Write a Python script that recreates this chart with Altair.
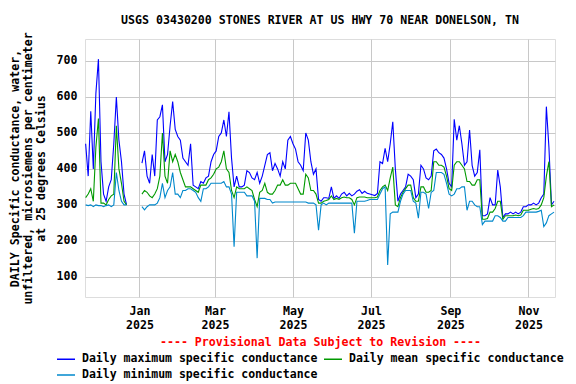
import altair as alt
import pandas as pd

# ---- data (every 2 days) ----
seg1_start = "2024-11-20"
seg1_max = [470, 380, 560, 400, 610, 705, 420, 330, 310, 350, 370, 470, 600, 480, 420, 330, 300]
seg1_mean = [320, 330, 345, 310, 460, 540, 305, 305, 300, 315, 325, 330, 520, 400, 360, 310, 300]
seg1_min = [300, 298, 300, 295, 300, 298, 298, 295, 298, 300, 295, 300, 390, 340, 310, 300, 300]

seg2_start = "2025-01-03"
seg2_max = [
    416, 450, 380, 360, 440, 380, 536, 545, 578, 420,
    440, 520, 587, 510, 490, 480, 430, 420, 410, 470,
    355, 350, 345, 365, 360, 375, 380, 420, 440, 450,
    490, 500, 536, 490, 559, 430, 350, 380, 350, 350,
    355, 395, 390, 375, 370, 390, 360, 380, 410, 440,
    445, 395, 415, 400, 380, 420, 400, 480, 490, 470,
    455, 420, 410, 395, 500, 480, 420, 385, 400, 315,
    310, 320, 320, 318, 350, 318, 325, 318, 330, 335,
    325, 332, 325, 330, 338, 342, 332, 338, 332, 330,
    328, 326, 332, 420, 415, 457, 420, 470, 531, 400,
    310, 330, 340, 350, 385, 380, 370, 320, 330, 410,
    400, 375, 370, 380, 450, 455, 445, 440, 430, 400,
    360, 350, 538, 480, 520, 470, 410, 420, 508, 410,
    380, 390, 453, 270, 270, 275, 320, 300, 300, 397,
    350, 265, 275, 275, 280, 275, 280, 275, 280, 295,
    295, 300, 300, 305, 300, 305, 320, 330, 573, 460,
    300, 310,
]
seg2_mean = [
    330, 340, 335, 325, 320, 330, 345, 380, 500, 380,
    360, 450, 420, 440, 420, 390, 370, 350, 350, 350,
    345, 340, 335, 355, 355, 355, 370, 375, 385, 400,
    405, 420, 450, 400, 390, 340, 320, 350, 345, 345,
    345, 350, 345, 340, 315, 295, 335, 340, 360, 335,
    330, 330, 340, 355, 355, 370, 355, 355, 360, 360,
    360, 345, 330, 330, 385, 375, 340, 340, 330, 305,
    305, 310, 312, 315, 325, 315, 318, 315, 320, 322,
    320, 320, 315, 300, 320, 322, 322, 322, 320, 320,
    320, 320, 322, 340, 350, 355, 340, 375, 405, 300,
    295, 320, 335, 345, 355, 355, 320, 310, 310, 350,
    350, 335, 335, 340, 420, 420, 410, 410, 405, 380,
    345, 340, 410, 420, 420, 410, 400, 365, 365, 355,
    355, 370, 370, 260, 260, 262, 280, 280, 290, 310,
    310, 260, 270, 270, 270, 270, 272, 270, 272, 285,
    285, 285, 288, 290, 288, 290, 300, 320, 380, 420,
    295, 300,
]
seg2_min = [
    295, 286, 295, 300, 300, 300, 305, 320, 360, 320,
    340, 350, 390, 330, 330, 320, 340, 340, 345, 345,
    340, 335, 320, 310, 345, 345, 350, 360, 360, 360,
    360, 360, 365, 350, 350, 330, 184, 335, 335, 335,
    335, 325, 325, 325, 310, 152, 318, 318, 318, 315,
    315, 305, 308, 308, 308, 308, 308, 308, 308, 308,
    308, 308, 308, 308, 308, 305, 305, 305, 300, 230,
    300, 305, 300, 305, 305, 305, 305, 305, 305, 305,
    305, 305, 305, 221, 310, 310, 310, 310, 312, 315,
    315, 315, 315, 330, 345, 350, 133, 275, 280, 280,
    280, 310, 330, 340, 340, 340, 310, 305, 263, 335,
    335, 330, 290, 335, 340, 390, 390, 390, 385, 360,
    330, 325, 330, 345, 345, 350, 350, 285, 310, 310,
    300, 295, 295, 245, 255, 255, 255, 255, 270, 270,
    265, 255, 255, 265, 265, 265, 265, 265, 265, 270,
    280, 280, 280, 280, 280, 282, 285, 240, 250, 270,
    275, 280,
]

series_max = "Daily maximum specific conductance"
series_mean = "Daily mean specific conductance"
series_min = "Daily minimum specific conductance"
draw_order = [series_max, series_mean, series_min]
# legend domain is laid out column by column: (max, min) then (mean)
legend_domain = [series_max, series_min, series_mean]
legend_colors = ["#0000ff", "#0088cc", "#009900"]
y_ticks = [100, 200, 300, 400, 500, 600, 700]
x_tick_dates = [(2025, 1), (2025, 3), (2025, 5), (2025, 7), (2025, 9), (2025, 11)]

title_text = "USGS 03430200 STONES RIVER AT US HWY 70 NEAR DONELSON, TN"
y_title = [
    "DAILY Specific conductance, water,",
    "unfiltered, microsiemens per centimeter",
    "at 25 degrees Celsius",
]
note_text = "---- Provisional Data Subject to Revision ----"

# ---- long table ----
rows = []
for seg, start, arrs in [
    (1, seg1_start, (seg1_max, seg1_mean, seg1_min)),
    (2, seg2_start, (seg2_max, seg2_mean, seg2_min)),
]:
    dates = pd.date_range(start, periods=len(arrs[0]), freq="2D")
    for name, arr in zip(draw_order, arrs):
        for d, v in zip(dates, arr):
            rows.append({"date": d.strftime("%Y-%m-%d"), "value": v,
                         "series": name, "seg": seg})
df = pd.DataFrame(rows)

FONT = "DejaVu Sans Mono"
FS = 11.6

x_enc = alt.X(
    "date:T",
    scale=alt.Scale(
        type="utc",
        domain=[
            alt.DateTime(year=2024, month=11, date=19, hours=12, utc=True),
            alt.DateTime(year=2025, month=11, date=21, hours=18, utc=True),
        ],
    ),
    axis=alt.Axis(
        values=[alt.DateTime(year=y, month=m, date=1, utc=True) for y, m in x_tick_dates],
        labelExpr="[utcFormat(datum.value, '%b'), utcFormat(datum.value, '%Y')]",
        ticks=False, domain=False, grid=True, gridColor="#c8c8c8",
        labelFont=FONT, labelFontSize=FS, labelFontWeight="bold", labelColor="black",
        labelPadding=8, labelLineHeight=14, labelFlush=False,
        title=note_text, titleColor="#ff0000", titleFont=FONT, titleFontSize=FS,
        titleFontWeight="bold", titleY=45, titleBaseline="middle",
    ),
)
y_enc = alt.Y(
    "value:Q",
    scale=alt.Scale(domain=[44, 761], nice=False, zero=False),
    axis=alt.Axis(
        values=y_ticks, ticks=False, domain=False, grid=True, gridColor="#c8c8c8",
        labelFont=FONT, labelFontSize=FS, labelFontWeight="bold", labelColor="black",
        labelPadding=8,
        title=y_title, titleFont=FONT, titleFontSize=FS, titleFontWeight="bold",
        titleAngle=270, titleX=-67, titleY=129, titleAlign="center",
        titleBaseline="alphabetic", titleLineHeight=13,
    ),
)
color_enc = alt.Color(
    "series:N",
    scale=alt.Scale(domain=legend_domain, range=legend_colors),
    legend=alt.Legend(
        title=None, orient="none", legendX=-29, legendY=310, columns=2,
        symbolType="stroke", symbolSize=324, symbolStrokeWidth=1.5,
        labelFont=FONT, labelFontSize=11.5, labelFontWeight="bold", labelColor="black",
        labelLimit=0, labelOffset=6, columnPadding=3, rowPadding=0, padding=0,
    ),
)

base = alt.Chart(df)
layers = [
    base.transform_filter(alt.datum.series == name)
    .mark_line(strokeWidth=1.1, interpolate="linear")
    .encode(x=x_enc, y=y_enc, color=color_enc, detail="seg:N")
    for name in draw_order
]

chart = (
    alt.layer(*layers)
    .properties(
        width=470, height=258,
        title=alt.TitleParams(
            text=title_text, font=FONT, fontSize=FS, fontWeight="bold",
            anchor="middle", offset=5, color="black",
        ),
        autosize=alt.AutoSizeParams(type="none"),
        padding={"left": 77, "top": 31, "right": 13, "bottom": 86},
    )
    .configure_view(stroke="black", strokeWidth=1)
    .configure(background="white")
)

chart.save("out.html", embed_options={"renderer": "svg", "actions": False})
